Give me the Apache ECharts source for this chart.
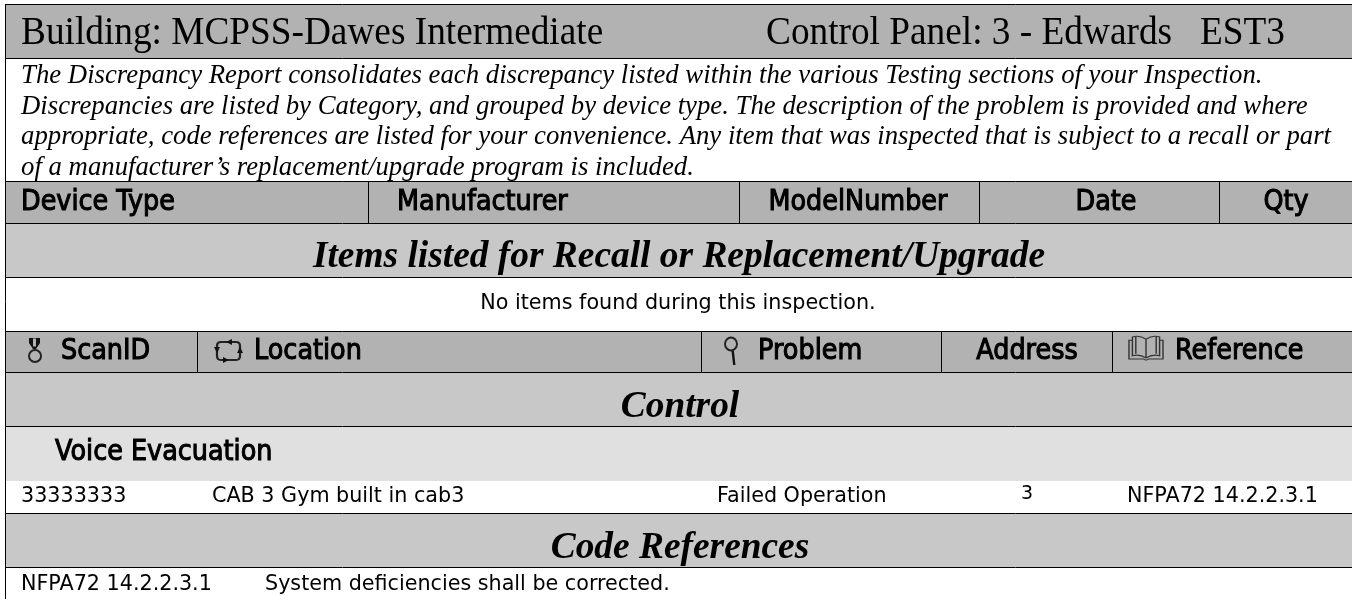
<!DOCTYPE html>
<html>
<head>
<meta charset="utf-8">
<title>Discrepancy Report</title>
<script src="https://cdn.jsdelivr.net/npm/echarts@6/dist/echarts.min.js"></script>
<style>
  html, body { margin: 0; padding: 0; background: #fff; }
  #chart { width: 1352px; height: 599px; }
</style>
</head>
<body>
<div id="chart"></div>
<script>
const titleTexts = ['Building: MCPSS-Dawes Intermediate', 'Control Panel: 3 - Edwards   EST3']
const introLines = [
  'The Discrepancy Report consolidates each discrepancy listed within the various Testing sections of your Inspection.',
  'Discrepancies are listed by Category, and grouped by device type. The description of the problem is provided and where',
  'appropriate, code references are listed for your convenience. Any item that was inspected that is subject to a recall or part',
  'of a manufacturer\u2019s replacement/upgrade program is included.'
]
const recallColumns = ['Device Type', 'Manufacturer', 'ModelNumber', 'Date', 'Qty']
const scanColumns = ['ScanID', 'Location', 'Problem', 'Address', 'Reference']
const bandTitles = ['Items listed for Recall or Replacement/Upgrade', 'Control', 'Code References']
const emptyNote = 'No items found during this inspection.'
const groupName = 'Voice Evacuation'
const scanRow = ['33333333', 'CAB 3 Gym built in cab3', 'Failed Operation', '3', 'NFPA72 14.2.2.3.1']
const codeRow = ['NFPA72 14.2.2.3.1', 'System deficiencies shall be corrected.']

// layout in page pixels
const leftEdge = 6
const rightEdge = 1352
const rows = [
  { top: 4, bottom: 58, fill: '#b2b2b2' },
  { top: 181, bottom: 223, fill: '#b2b2b2' },
  { top: 223, bottom: 277, fill: '#c8c8c8' },
  { top: 331, bottom: 372, fill: '#b2b2b2' },
  { top: 372, bottom: 426, fill: '#c8c8c8' },
  { top: 426, bottom: 481, fill: '#e0e0e0' },
  { top: 513, bottom: 567, fill: '#c8c8c8' }
]
const ruleYs = [4, 58, 181, 223, 277, 331, 372, 426, 513, 567]
const recallSeps = [368, 739, 979, 1219]
const scanSeps = [197, 701, 941, 1112]

const SERIF = '"Liberation Serif", serif'
const SANS = '"DejaVu Sans", sans-serif'
// the reference type is a little taller than these fonts at the same width
const HEAD = { font: 'normal 400 25.5px ' + SANS, heavy: true, stretch: 1.1 }
const CELL = { font: 'normal 400 20.7px ' + SANS }
const DIGIT = { font: 'normal 400 19px ' + SANS }
const BAND = { font: 'italic 700 37.4px ' + SERIF }
const TITLE = { font: 'normal 400 37.3px ' + SERIF, stretch: 1.07 }
const INTRO = { font: 'italic 400 26.76px ' + SERIF }

const texts = [
  [titleTexts[0], 21, 33.8, 'left', TITLE],
  [titleTexts[1], 766, 33.8, 'left', TITLE],
  [introLines[0], 21, 76, 'left', INTRO],
  [introLines[1], 21, 107, 'left', INTRO],
  [introLines[2], 21, 137, 'left', INTRO],
  [introLines[3], 21, 168, 'left', INTRO],
  [recallColumns[0], 21, 202.3, 'left', HEAD],
  [recallColumns[1], 397, 202.3, 'left', HEAD],
  [recallColumns[2], 858, 202.3, 'center', HEAD],
  [recallColumns[3], 1106, 202.3, 'center', HEAD],
  [recallColumns[4], 1286, 202.3, 'center', HEAD],
  [bandTitles[0], 679, 257.5, 'center', BAND],
  [emptyNote, 678, 304, 'center', CELL],
  [scanColumns[0], 61, 351.3, 'left', HEAD],
  [scanColumns[1], 254, 351.3, 'left', HEAD],
  [scanColumns[2], 758, 351.3, 'left', HEAD],
  [scanColumns[3], 1027, 351.3, 'center', HEAD],
  [scanColumns[4], 1175, 351.3, 'left', HEAD],
  [bandTitles[1], 680, 407.5, 'center', BAND],
  [groupName, 55, 452.6, 'left', HEAD],
  [scanRow[0], 21, 497, 'left', CELL],
  [scanRow[1], 212, 497, 'left', CELL],
  [scanRow[2], 717, 497, 'left', CELL],
  [scanRow[3], 1027, 494.5, 'center', DIGIT],
  [scanRow[4], 1127, 497, 'left', CELL],
  [bandTitles[2], 680, 548.5, 'center', BAND],
  [codeRow[0], 21, 585, 'left', CELL],
  [codeRow[1], 265, 585, 'left', CELL]
]

const INK = { color: '#111', borderColor: '#111', borderWidth: 0 }
const RING = { color: 'none', borderColor: '#222', borderWidth: 2 }
const PANEL = { color: '#b2b2b2', borderColor: '#b2b2b2', borderWidth: 0 }
const LINE = { color: 'none', borderColor: '#333', borderWidth: 1.2 }

const icons = [
  // medal
  { at: [34.5, 343.5], size: [11, 11], symbol: 'path://M0 0L11 0L11 5L7 11L4 11L0 5Z', style: INK },
  { at: [34.5, 342.5], size: [3, 8], symbol: 'rect', style: PANEL },
  { at: [35, 356], size: [12, 12], symbol: 'circle', style: RING },
  // location loop
  { at: [228.5, 351], size: [23, 18], symbol: 'path://M4 0L19 0Q23 0 23 4L23 14Q23 18 19 18L4 18Q0 18 0 14L0 4Q0 0 4 0Z', style: RING },
  { at: [229, 342], size: [6, 6], symbol: 'triangle', rotate: 90, style: INK },
  { at: [226, 360], size: [6, 6], symbol: 'triangle', rotate: -90, style: INK },
  { at: [217, 350], size: [6, 6], symbol: 'triangle', rotate: 180, style: INK },
  { at: [240, 350], size: [6, 6], symbol: 'triangle', rotate: 0, style: INK },
  // magnifier
  { at: [731, 344], size: [12, 13], symbol: 'circle', style: RING },
  { at: [733.5, 358], size: [4, 14], symbol: 'path://M0 0L3 0L5 14L2 14Z', style: INK },
  // book
  { at: [1146, 348], size: [34, 24], symbol: 'path://M16 5Q10 1 4 3L4 21Q10 19 16 23Q22 19 28 21L28 3Q22 1 16 5L16 23M4 6L1 6L1 24L14 24Q16 26 18 24L31 24L31 6L28 6M7 2L7 19M25 2L25 19', style: LINE }
]

const chart = echarts.init(document.getElementById('chart'), null, { renderer: 'canvas' })

function renderBand(params, api) {
  const row = rows[api.value(0)]
  const a = api.coord([leftEdge, row.top])
  const b = api.coord([rightEdge, row.bottom])
  return { type: 'rect', shape: { x: a[0], y: a[1], width: b[0] - a[0], height: b[1] - a[1] }, style: { fill: row.fill } }
}

function renderText(params, api) {
  const t = texts[api.value(0)]
  const p = api.coord([t[1], t[2]])
  const style = { x: 0, y: 0, text: t[0], font: t[4].font, fill: '#000', align: t[3], verticalAlign: 'middle' }
  if (t[4].heavy) {
    style.stroke = '#000'
    style.lineWidth = 1
  }
  return { type: 'text', x: p[0], y: p[1], scaleY: t[4].stretch || 1, style: style }
}

function renderRules(params, api) {
  const rule = (x1, y1, x2, y2) => {
    const a = api.coord([x1, y1])
    const b = api.coord([x2, y2])
    return { type: 'line', shape: { x1: a[0], y1: a[1], x2: b[0], y2: b[1] }, style: { stroke: '#000', lineWidth: 1 } }
  }
  const kids = ruleYs.map(y => rule(leftEdge, y + 0.5, rightEdge, y + 0.5))
  kids.push(rule(leftEdge - 0.5, 4, leftEdge - 0.5, 599))
  recallSeps.forEach(x => kids.push(rule(x + 0.5, 181, x + 0.5, 223)))
  scanSeps.forEach(x => kids.push(rule(x + 0.5, 331, x + 0.5, 372)))
  return { type: 'group', children: kids }
}

const option = {
  animation: false,
  backgroundColor: '#fff',
  tooltip: { show: false },
  grid: { left: 0, right: 0, top: 0, bottom: 0 },
  xAxis: { type: 'value', min: 0, max: 1352, show: false },
  yAxis: { type: 'value', min: 0, max: 599, inverse: true, show: false },
  series: [
    { type: 'custom', silent: true, coordinateSystem: 'cartesian2d', renderItem: renderBand, data: rows.map((r, i) => [i]), encode: { x: 0, y: 0 }, z: 1 },
    { type: 'custom', silent: true, coordinateSystem: 'cartesian2d', renderItem: renderRules, data: [[0]], encode: { x: 0, y: 0 }, z: 2 },
    { type: 'custom', silent: true, coordinateSystem: 'cartesian2d', renderItem: renderText, data: texts.map((t, i) => [i]), encode: { x: 0, y: 0 }, clip: false, z: 3 },
    {
      type: 'scatter',
      silent: true,
      z: 4,
      data: icons.map(ic => ({
        value: ic.at,
        symbol: ic.symbol,
        symbolSize: ic.size,
        symbolRotate: ic.rotate || 0,
        itemStyle: Object.assign({ opacity: 1 }, ic.style)
      }))
    }
  ]
}

chart.setOption(option)
</script>
</body>
</html>
